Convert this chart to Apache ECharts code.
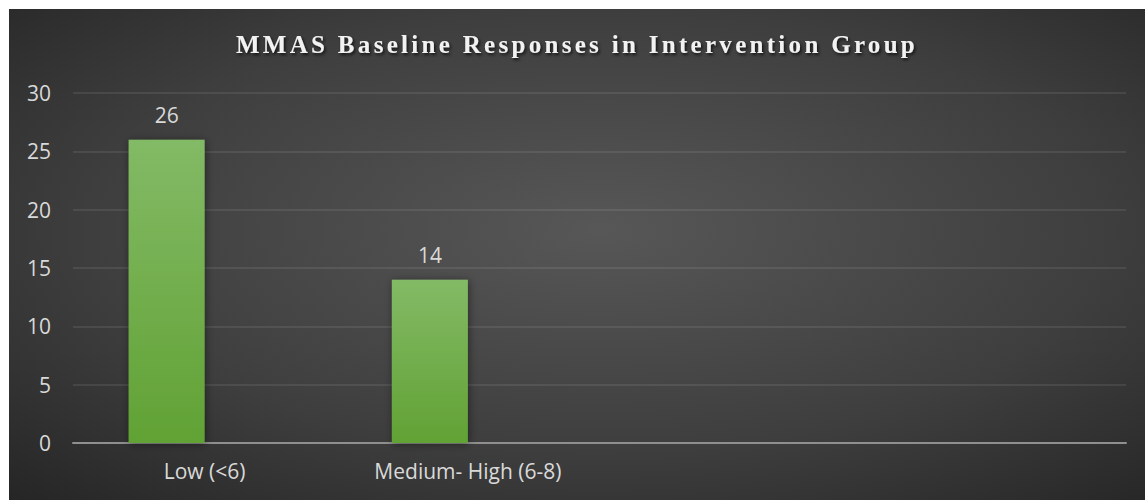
<!DOCTYPE html>
<html>
<head>
<meta charset="utf-8">
<script src="https://cdn.jsdelivr.net/npm/echarts@6/dist/echarts.min.js"></script>
<style>
  html, body { margin: 0; padding: 0; background: #ffffff; }
  #chart { position: absolute; left: 9px; top: 9px; width: 1136px; height: 491px; }
  /* the serif heading is tracked out */
  #chart svg text[style*="Liberation Serif"] { letter-spacing: 3.3px; }
</style>
</head>
<body>
<div id="chart"></div>
<script>
const titleText = 'MMAS Baseline Responses in Intervention Group';
const categories = ['Low (<6)', 'Medium- High (6-8)', '', ''];
const responses = [26, 14, null, null];
const emptySeries = [null, null, null, null];
const yTicks = { min: 0, max: 30, interval: 5 };

const chart = echarts.init(document.getElementById('chart'), null, { renderer: 'svg' });

const labelColor = '#d9d9d9';
const uiFont = '"Open Sans", sans-serif';

chart.setOption({
  backgroundColor: {
    type: 'radial', x: 0.52, y: 0.45, r: 0.75,
    colorStops: [
      { offset: 0, color: '#575757' },
      { offset: 0.6, color: '#3e3e3e' },
      { offset: 1, color: '#262626' }
    ]
  },
  title: {
    text: titleText,
    left: 'center',
    top: 18,
    textStyle: {
      fontFamily: '"Liberation Serif", serif',
      fontWeight: 'bold',
      fontSize: 25,
      color: '#f2f2f2',
      textShadowColor: 'rgba(0,0,0,0.7)',
      textShadowBlur: 3,
      textShadowOffsetX: 1.5,
      textShadowOffsetY: 2
    }
  },
  grid: { left: 64, right: 19, top: 84, bottom: 57, containLabel: false },
  xAxis: {
    type: 'category',
    data: categories,
    axisTick: { show: false },
    axisLine: { lineStyle: { color: '#8f8f8f', width: 2 } },
    axisLabel: { color: labelColor, fontFamily: uiFont, fontSize: 21, margin: 17, interval: 0 }
  },
  yAxis: {
    type: 'value',
    min: yTicks.min, max: yTicks.max, interval: yTicks.interval,
    axisLine: { show: false },
    axisTick: { show: false },
    axisLabel: { color: labelColor, fontFamily: uiFont, fontSize: 21, margin: 22 },
    splitLine: { lineStyle: { color: 'rgba(255,255,255,0.11)', width: 1.5 } }
  },
  series: [
    {
      name: 'Responses',
      type: 'bar',
      data: responses,
      barWidth: 76,
      barGap: '0%',
      itemStyle: {
        color: {
          type: 'linear', x: 0, y: 0, x2: 0, y2: 1,
          colorStops: [
            { offset: 0, color: '#83ba66' },
            { offset: 1, color: '#61a234' }
          ]
        },
        shadowColor: 'rgba(0,0,0,0.45)',
        shadowBlur: 8,
        shadowOffsetX: 1,
        shadowOffsetY: 1
      },
      label: {
        show: true,
        position: 'top',
        distance: 14,
        color: labelColor,
        fontFamily: uiFont,
        fontSize: 21
      }
    },
    {
      name: 'Empty',
      type: 'bar',
      data: emptySeries,
      barWidth: 76
    }
  ]
});
</script>
</body>
</html>
